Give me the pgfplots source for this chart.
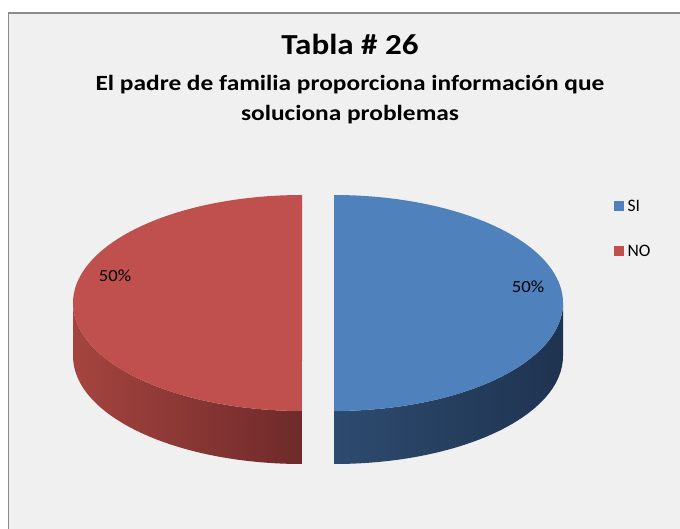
\documentclass[border=0pt]{standalone}
\usepackage{fontspec}
\setmainfont{Carlito}
\usepackage{pgfplots}
\usepackage{pgfplotstable}
\pgfplotsset{compat=1.18}

\definecolor{bgc}{HTML}{F0F0F0}
\definecolor{framec}{HTML}{8C8C8C}
\definecolor{sitop}{HTML}{4F81BD}
\definecolor{notop}{HTML}{C0504D}
\definecolor{sisideL}{HTML}{2D4B6F}
\definecolor{sisideR}{HTML}{1F3350}
\definecolor{nosideL}{HTML}{A5443F}
\definecolor{nosideR}{HTML}{6E2A2A}
\definecolor{txt}{HTML}{000000}

\pgfplotstableread{
label value
SI 50
NO 50
}\piedata

% geometry of the pie (axis units = pt)
\def\cx{318}\def\cy{225}\def\ra{229}\def\rb{108}\def\dep{53}\def\expl{16}

\begin{document}
\begin{tikzpicture}
\pgfplotstablegetelem{0}{value}\of\piedata\let\vSI\pgfplotsretval
\pgfplotstablegetelem{1}{value}\of\piedata\let\vNO\pgfplotsretval
\pgfmathsetmacro{\tot}{\vSI+\vNO}
\pgfmathsetmacro{\fS}{\vSI/\tot}
\pgfmathsetmacro{\fN}{\vNO/\tot}
\pgfmathsetmacro{\aS}{90}
\pgfmathsetmacro{\aM}{90-360*\fS}
\pgfmathsetmacro{\aE}{\aM-360*\fN}
% slice centres (exploded along bisector)
\pgfmathsetmacro{\midS}{(\aS+\aM)/2}
\pgfmathsetmacro{\midN}{(\aM+\aE)/2}
\pgfmathsetmacro{\cxS}{\cx+\expl*cos(\midS)}
\pgfmathsetmacro{\cyS}{\cy+\expl*sin(\midS)}
\pgfmathsetmacro{\cxN}{\cx+\expl*cos(\midN)}
\pgfmathsetmacro{\cyN}{\cy+\expl*sin(\midN)}
% visible side ranges (front half: -180..0)
\pgfmathsetmacro{\sA}{max(\aM,-180)}
\pgfmathsetmacro{\sB}{min(\aS,0)}
\pgfmathsetmacro{\nA}{max(\aE,-180)}
\pgfmathsetmacro{\nB}{min(\aM,0)}
\begin{axis}[
  width=680pt, height=528pt, scale only axis,
  xmin=0, xmax=680, ymin=0, ymax=528,
  enlargelimits=false, hide axis, clip=true,
  legend style={draw=none, fill=none, at={(axis cs:614,344.5)}, anchor=north west,
    font=\fontsize{17.5}{21}\selectfont, inner sep=0pt,
    nodes={inner sep=1pt, text=txt, minimum height=45pt}},
  legend cell align=left,
]
% background panel
\addplot[fill=bgc, draw=framec, line width=1.6pt, forget plot]
  coordinates {(8.5,-20) (8.5,515) (700,515) (700,-20)} -- cycle;

% SI side
\addplot[left color=sisideL, right color=sisideR, draw=none, forget plot,
  domain=\sA:\sB, samples=60, variable=\t]
  ({\cxS+\ra*cos(\t)},{\cyS+\rb*sin(\t)})
  -- (axis cs:{\cxS+\ra*cos(\sB)},{\cyS-\dep+\rb*sin(\sB)})
  arc[start angle=\sB, end angle=\sA, x radius=\ra pt, y radius=\rb pt] -- cycle;
% NO side
\addplot[left color=nosideL, right color=nosideR, draw=none, forget plot,
  domain=\nA:\nB, samples=60, variable=\t]
  ({\cxN+\ra*cos(\t)},{\cyN+\rb*sin(\t)})
  -- (axis cs:{\cxN+\ra*cos(\nB)},{\cyN-\dep+\rb*sin(\nB)})
  arc[start angle=\nB, end angle=\nA, x radius=\ra pt, y radius=\rb pt] -- cycle;

% top faces
\addplot[fill=sitop, draw=none, forget plot, domain=\aM:\aS, samples=120, variable=\t]
  ({\cxS+\ra*cos(\t)},{\cyS+\rb*sin(\t)}) -- (axis cs:\cxS,\cyS) -- cycle;
\addplot[fill=notop, draw=none, forget plot, domain=\aE:\aM, samples=120, variable=\t]
  ({\cxN+\ra*cos(\t)},{\cyN+\rb*sin(\t)}) -- (axis cs:\cxN,\cyN) -- cycle;

% legend
\addlegendimage{legend image code/.code={\fill[sitop] (0pt,-4.5pt) rectangle (9pt,4.5pt);}}
\addlegendentry{\hspace*{3pt}SI}
\addlegendimage{legend image code/.code={\fill[notop] (0pt,-4.5pt) rectangle (9pt,4.5pt);}}
\addlegendentry{\hspace*{3pt}NO}

% data labels
\node[font=\fontsize{17}{21}\selectfont, text=txt] at (axis cs:528,241) {\scalebox{1.1}[1]{50\%}};
\node[font=\fontsize{17}{21}\selectfont, text=txt] at (axis cs:115,252) {\scalebox{1.1}[1]{50\%}};

% titles
\node[anchor=base, font=\bfseries\fontsize{29}{35}\selectfont, text=txt] at (axis cs:350,473) {\scalebox{1.14}[1]{Tabla \# 26}};
\node[anchor=base, font=\bfseries\fontsize{21.7}{26}\selectfont, text=txt] at (axis cs:350,437) {\scalebox{1.17}[1]{El padre de familia proporciona información que}};
\node[anchor=base, font=\bfseries\fontsize{21.7}{26}\selectfont, text=txt] at (axis cs:350,407) {\scalebox{1.17}[1]{soluciona problemas}};
\end{axis}
\pgfresetboundingbox
\useasboundingbox (current axis.south west) rectangle (current axis.north east);
\end{tikzpicture}
\end{document}
